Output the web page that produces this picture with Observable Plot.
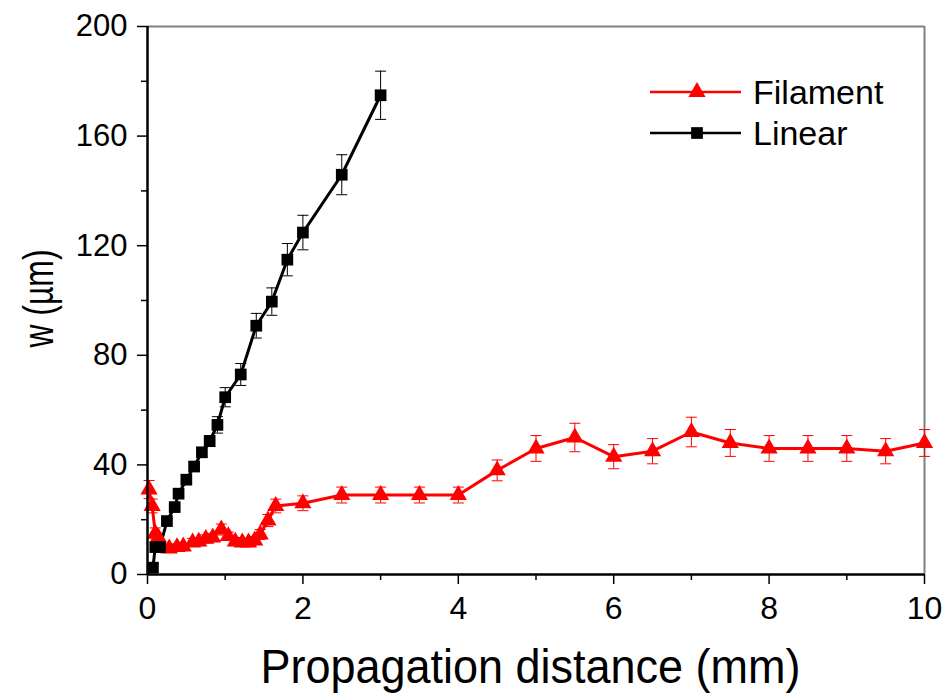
<!DOCTYPE html>
<html>
<head>
<meta charset="utf-8">
<script src="https://cdn.jsdelivr.net/npm/d3@7"></script>
<script src="https://cdn.jsdelivr.net/npm/@observablehq/plot@0.6"></script>
<style>
  html, body { margin: 0; padding: 0; background: #fff; }
  #wrap { position: relative; width: 945px; height: 696px; font-family: "Liberation Sans", Arial, sans-serif; }
  #legend { position: absolute; left: 0; top: 0; pointer-events: none; }
</style>
</head>
<body>
<div id="wrap"></div>
<script>
// ---- data ----
const filamentX = [0.02, 0.06, 0.1, 0.14, 0.28, 0.38, 0.46, 0.58, 0.66, 0.75, 0.84, 0.95, 1.04, 1.13, 1.22, 1.3, 1.38, 1.45, 1.55, 1.65, 2.0, 2.5, 3.0, 3.5, 4.0, 4.5, 5.0, 5.5, 6.0, 6.5, 7.0, 7.5, 8.0, 8.5, 9.0, 9.5, 10];
const filamentY = [31, 25, 15, 13.5, 9.5, 10, 10.2, 11.7, 12, 13, 13.5, 16.4, 14, 12, 11.7, 11.7, 12.4, 14.6, 19.7, 25, 26, 29, 29, 29, 29, 38, 46, 50, 43, 45, 52, 48, 46, 46, 46, 45, 48];
const filamentErr = [3.3, 2.5, 2, 1.5, 1.2, 1.2, 1.2, 1.5, 1.5, 1.5, 1.5, 2, 1.5, 1.5, 1.5, 1.5, 1.5, 1.8, 2.2, 2.5, 2.7, 2.9, 2.9, 2.9, 2.9, 3.8, 4.7, 5.2, 4.4, 4.6, 5.4, 4.9, 4.7, 4.7, 4.7, 4.6, 4.9];

const linearX = [0.07, 0.1, 0.16, 0.25, 0.35, 0.4, 0.5, 0.6, 0.7, 0.8, 0.9, 1.0, 1.2, 1.4, 1.6, 1.8, 2.0, 2.5, 3.0];
const linearY = [2.5, 10, 10, 19.5, 24.6, 29.5, 34.6, 39.4, 44.6, 48.7, 54.6, 64.7, 73, 90.8, 99.6, 114.9, 124.8, 145.9, 174.9];
const linearErr = [1.5, 1, 1, 1, 1, 1.2, 1.3, 1.5, 1.7, 2, 3, 3.5, 4, 4.5, 5, 5.9, 6.3, 7.3, 8.8];

const xDomain = [0, 10];
const yDomain = [0, 200];
const xMajor = [0, 2, 4, 6, 8, 10];
const xMinor = [1, 3, 5, 7, 9];
const yMajor = [0, 40, 80, 120, 160, 200];
const yMinor = [20, 60, 100, 140, 180];

const seriesNames = ["Filament", "Linear"];
const seriesColors = ["#ff0000", "#000000"];
const xTitle = "Propagation distance (mm)";
const yTitle = "w (µm)";

// ---- build tables ----
const filament = filamentX.map((x, i) => ({x, y: filamentY[i], e: filamentErr[i]}));
const linear = linearX.map((x, i) => ({x, y: linearY[i], e: linearErr[i]}));

const cap = { draw(ctx) { ctx.moveTo(-5.5, 0); ctx.lineTo(5.5, 0); } };

function errorMarks(data, color) {
  return [
    Plot.ruleX(data, {x: "x", y1: d => d.y - d.e, y2: d => d.y + d.e, stroke: color, strokeWidth: 1}),
    Plot.dot(data, {x: "x", y: d => d.y + d.e, symbol: cap, stroke: color, strokeWidth: 1, r: 3}),
    Plot.dot(data, {x: "x", y: d => d.y - d.e, symbol: cap, stroke: color, strokeWidth: 1, r: 3})
  ];
}

const chart = Plot.plot({
  width: 945,
  height: 696,
  marginLeft: 147,
  marginRight: 21,
  marginTop: 26,
  marginBottom: 122,
  x: {domain: xDomain},
  y: {domain: yDomain},
  style: {fontFamily: "'Liberation Sans', Arial, sans-serif", background: "#fff", color: "#000"},
  marks: [
    Plot.ruleY([yDomain[1]], {stroke: "#808080", strokeWidth: 2}),
    Plot.ruleX([xDomain[1]], {stroke: "#808080", strokeWidth: 2}),
    Plot.axisX({ticks: xMajor, tickSize: 10, tickPadding: 12, fontSize: 32, label: null, strokeWidth: 1.5, tickFormat: d => String(d)}),
    Plot.axisX({ticks: xMinor, tickSize: 6, label: null, strokeWidth: 1.5, tickFormat: () => ""}),
    Plot.axisY({ticks: yMajor, tickSize: 10, tickPadding: 10, fontSize: 31, label: null, strokeWidth: 1.5, tickFormat: d => String(d)}),
    Plot.axisY({ticks: yMinor, tickSize: 6, label: null, strokeWidth: 1.5, tickFormat: () => ""}),
    ...errorMarks(filament, seriesColors[0]),
    ...errorMarks(linear, seriesColors[1]),
    Plot.line(filament, {x: "x", y: "y", stroke: seriesColors[0], strokeWidth: 3}),
    Plot.line(linear, {x: "x", y: "y", stroke: seriesColors[1], strokeWidth: 3}),
    Plot.dot(filament, {x: "x", y: "y", symbol: "triangle", r: 6.4, fill: seriesColors[0], stroke: "none"}),
    Plot.dot(linear, {x: "x", y: "y", symbol: "square", r: 6.6, fill: seriesColors[1], stroke: "none"}),
    Plot.ruleY([yDomain[0]], {stroke: "#000", strokeWidth: 2.5}),
    Plot.ruleX([xDomain[0]], {stroke: "#000", strokeWidth: 2.5}),
    Plot.text([xTitle], {frameAnchor: "bottom-left", dx: 113, dy: 108, textAnchor: "start", text: d => d, fontSize: 48, fill: "#000"}),
    Plot.text([yTitle], {frameAnchor: "left", dx: -108, dy: 47, rotate: -90, textAnchor: "start", text: d => d, fontSize: 42, fill: "#000"})
  ]
});

const wrap = document.getElementById("wrap");
wrap.appendChild(chart);

// condense the axis titles to the reference's text lengths
d3.select(chart).selectAll("text").each(function() {
  const t = this.textContent;
  if (t === xTitle) d3.select(this).attr("textLength", 540).attr("lengthAdjust", "spacingAndGlyphs");
  if (t === yTitle) d3.select(this).attr("textLength", 98).attr("lengthAdjust", "spacingAndGlyphs");
});

// ---- legend (overlay inside the plot area) ----
const leg = d3.select(wrap).append("svg")
  .attr("id", "legend").attr("width", 945).attr("height", 696);
const legendRows = [
  {name: seriesNames[0], color: seriesColors[0], symbol: d3.symbolTriangle, r: 6.4, y: 92},
  {name: seriesNames[1], color: seriesColors[1], symbol: d3.symbolSquare, r: 6.6, y: 133}
];
for (const row of legendRows) {
  const g = leg.append("g").attr("transform", `translate(0,${row.y})`);
  g.append("line").attr("x1", 650).attr("x2", 741).attr("y1", 0).attr("y2", 0)
    .attr("stroke", row.color).attr("stroke-width", 2.5);
  g.append("path").attr("d", d3.symbol(row.symbol, Math.PI * row.r * row.r)())
    .attr("transform", "translate(697,0)").attr("fill", row.color);
  g.append("text").attr("x", 753).attr("y", 0).attr("dy", "0.35em")
    .attr("font-size", 34).attr("font-family", "'Liberation Sans', Arial, sans-serif")
    .attr("fill", "#000").text(row.name);
}
</script>
</body>
</html>
